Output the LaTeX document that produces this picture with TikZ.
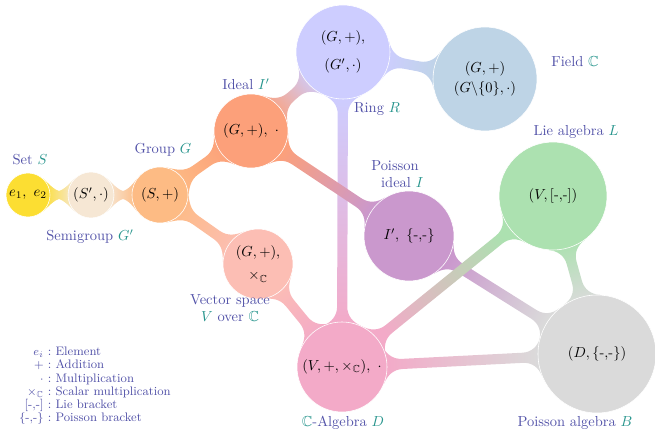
\documentclass[tikz,border=0pt]{standalone}
\usepackage{amsmath,amssymb}
\usepackage{tikz}
\usetikzlibrary{calc,backgrounds}
\definecolor{cyel}{RGB}{252,222,50}
\definecolor{csemi}{RGB}{246,231,212}
\definecolor{cgrp}{RGB}{253,187,132}
\definecolor{cideal}{RGB}{252,160,122}
\definecolor{cring}{RGB}{205,205,255}
\definecolor{cfield}{RGB}{190,212,230}
\definecolor{clie}{RGB}{172,225,176}
\definecolor{cpid}{RGB}{202,152,205}
\definecolor{cvsp}{RGB}{252,190,180}
\definecolor{calg}{RGB}{243,170,200}
\definecolor{cpois}{RGB}{218,218,218}
\definecolor{labviolet}{RGB}{82,82,168}
\definecolor{labteal}{RGB}{38,148,140}
\newcommand\mt[1]{\textcolor{labteal}{$#1$}}
\newcommand\bgp{9.5}
\newcommand\bfl{10.5}
\makeatletter
% bridge with fillets between two circles, shaded from one colour to the other
\newcommand\bridge[5][7]{%
  \pgfpointdiff{\pgfpointanchor{#2}{center}}{\pgfpointanchor{#2}{east}}%
  \pgfmathsetmacro\bra{\pgf@x}%
  \pgfpointdiff{\pgfpointanchor{#3}{center}}{\pgfpointanchor{#3}{east}}%
  \pgfmathsetmacro\brb{\pgf@x}%
  \pgfmathanglebetweenpoints{\pgfpointanchor{#2}{center}}{\pgfpointanchor{#3}{center}}%
  \pgfmathsetmacro\bang{\pgfmathresult}%
  \pgfmathsetmacro\bhw{#1/2}%
  \pgfmathsetmacro\bpa{asin(min(0.9,(\bhw+\bgp)/\bra))}%
  \pgfmathsetmacro\bpb{asin(min(0.9,(\bhw+\bgp)/\brb))}%
  \pgfmathsetmacro\bda{\bra+\bfl}%
  \pgfmathsetmacro\bdb{\brb+\bfl}%
  \pgfmathsetmacro\bsa{\bang-90}%
  \pgfmathsetmacro\aPa{\bang+\bpa}\pgfmathsetmacro\oPa{\bang+\bpa-90}%
  \pgfmathsetmacro\aPb{\bang+180-\bpb}\pgfmathsetmacro\iPb{\bang-90-\bpb}%
  \pgfmathsetmacro\aPc{\bang+180+\bpb}\pgfmathsetmacro\oPc{\bang+90+\bpb}%
  \pgfmathsetmacro\aPd{\bang-\bpa}\pgfmathsetmacro\iPd{\bang-\bpa+90}%
  \pgfmathsetmacro\bup{\bang+90}\pgfmathsetmacro\bdn{\bang-90}%
  \pgfmathsetmacro\bbk{\bang+180}%
  \shade[top color=#5, bottom color=#4, shading angle=\bsa]
    ($(#2)+(\aPa:\bra pt)$) to[out=\oPa, in=\bbk]
    ($(#2)+(\bang:\bda pt)+(\bup:\bhw pt)$) --
    ($(#3)+(\bbk:\bdb pt)+(\bup:\bhw pt)$) to[out=\bang, in=\iPb]
    ($(#3)+(\aPb:\brb pt)$) --
    ($(#3)+(\aPc:\brb pt)$) to[out=\oPc, in=\bang]
    ($(#3)+(\bbk:\bdb pt)+(\bdn:\bhw pt)$) --
    ($(#2)+(\bang:\bda pt)+(\bdn:\bhw pt)$) to[out=\bbk, in=\iPd]
    ($(#2)+(\aPd:\bra pt)$) -- cycle;
}
\makeatother

\begin{document}
\begin{tikzpicture}[
    x=0.69pt, y=-0.69pt,
    bub/.style={circle, inner sep=0pt, draw=white, line width=0.4pt, fill=#1, align=center},
    sz/.style={minimum size={1.38pt*#1}},
    tag/.style={text=labviolet, align=center}
]
\useasboundingbox (0,0) rectangle (655,430);
% bubbles
\node[bub=cyel, sz=22] (yel) at (28,195) {$e_1,\ e_2$};
\node[bub=csemi, sz=23] (semi) at (91,195) {$(S',\cdot)$};
\node[bub=cgrp, sz=28] (grp) at (160,195) {$(S,+)$};
\node[bub=cideal, sz=37] (ideal) at (251,131) {$(G,+),\ \cdot$};
\node[bub=cring, sz=47] (ring) at (343,52) {$(G,+)$,\\[7pt]$(G',\cdot)$};
\node[bub=cfield, sz=52] (field) at (485,79) {$(G,+)$\\[2pt]$(G\backslash\{0\},\cdot)$};
\node[bub=clie, sz=54] (lie) at (553,196) {$(V,[$-,-$])$};
\node[bub=cpid, sz=45] (pid) at (409,236) {$I',\ \{$-,-$\}$};
\node[bub=cvsp, sz=35] (vsp) at (258,264) {$(G,+)$,\\[4pt]$\times_{\mathbb{C}}$};
\node[bub=calg, sz=45] (calg) at (342,367) {$(V,+,\times_{\mathbb{C}}),\ \cdot$};
\node[bub=cpois, sz=59] (pois) at (597,354) {$(D,\{$-,-$\})$};
% connectors
\begin{scope}[on background layer]
\bridge[4]{yel}{semi}{cyel}{csemi}
\bridge[4]{semi}{grp}{csemi}{cgrp}
\bridge{grp}{ideal}{cgrp}{cideal}
\bridge{grp}{vsp}{cgrp}{cvsp}
\bridge{ideal}{ring}{cideal}{cring}
\bridge{ring}{field}{cring}{cfield}
\bridge{ring}{calg}{cring}{calg}
\bridge{ideal}{pid}{cideal}{cpid}
\bridge{vsp}{calg}{cvsp}{calg}
\bridge{pid}{pois}{cpid}{cpois}
\bridge{calg}{pois}{calg}{cpois}
\bridge{lie}{pois}{clie}{cpois}
\bridge{calg}{lie}{calg}{clie}
\end{scope}
% labels
\node[tag] (lset) at (30,160) {Set \mt{S}};
\node[tag] (lsemi) at (90,237) {Semigroup \mt{G'}};
\node[tag] (lgrp) at (163,150) {Group \mt{G}};
\node[tag] (lideal) at (246,84) {Ideal \mt{I'}};
\node[tag] (lring) at (377,109) {Ring \mt{R}};
\node[tag] (lfield) at (575,62) {Field \mt{\mathbb{C}}};
\node[tag] (llie) at (576,132) {Lie algebra \mt{L}};
\node[tag] (lpid) at (395,174) {Poisson\\\hspace{1em}ideal \mt{I}};
\node[tag] (lvsp) at (230,308) {Vector space\\\mt{V} over \mt{\mathbb{C}}};
\node[tag] (lcalg) at (343,423) {\mt{\mathbb{C}}-Algebra \mt{D}};
\node[tag] (lpois) at (575,423) {Poisson algebra \mt{B}};
% legend
\node[tag, font=\fontsize{8.5}{9}\selectfont] (legend) at (95,386) {%
  \begin{tabular}{@{}r@{\ :\ }l@{}}
    $e_i$ & Element\\
    $+$ & Addition\\
    $\cdot$ & Multiplication\\
    $\times_{\mathbb{C}}$ & Scalar multiplication\\
    {[}-,-{]} & Lie bracket\\
    $\{$-,-$\}$ & Poisson bracket
  \end{tabular}};
\end{tikzpicture}
\end{document}
